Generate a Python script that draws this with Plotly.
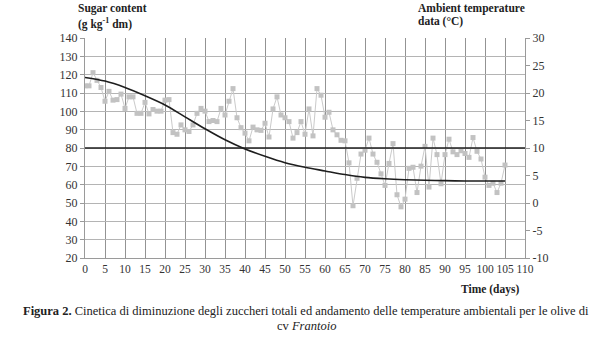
import plotly.graph_objects as go

# ---- data ----
sugar_days = [0, 5, 10, 15, 20, 25, 30, 35, 40, 45, 50, 55, 60, 65, 70, 75, 80, 85, 90, 95, 100, 105]
sugar_vals = [118.5, 116.5, 113, 108.5, 103.5, 97, 90.5, 84.5, 79.5, 75.5, 72, 69.5, 67.5, 65.5,
              64, 63.2, 62.7, 62.4, 62.2, 62, 62, 62]

temp_days = list(range(0, 106))
temp_vals = [21.3, 21.3, 23.7, 22.3, 21.0, 18.5, 20.3, 18.7, 18.8, 19.8,
             17.2, 19.3, 19.3, 16.3, 16.3, 18.3, 16.2, 17.0, 16.7, 16.7,
             18.7, 18.8, 12.8, 12.5, 14.2, 13.3, 13.0, 14.2, 16.3, 17.2,
             16.7, 14.8, 15.0, 14.8, 17.2, 16.0, 18.5, 20.8, 15.5, 13.7,
             12.7, 11.3, 13.8, 13.3, 13.2, 14.5, 12.0, 17.1, 19.3, 16.0,
             15.5, 14.8, 11.8, 12.8, 14.8, 12.5, 17.1, 12.2, 20.8, 19.6,
             15.6, 16.5, 13.3, 12.4, 11.4, 11.3, 7.3, -0.5, 4.5, 8.9,
             9.6, 11.8, 8.9, 7.4, 5.3, 3.2, 7.2, 10.8, 1.5, -0.7,
             0.7, 6.3, 6.5, 1.9, 6.7, 10.3, 2.9, 11.8, 8.8, 3.5,
             8.8, 11.6, 9.3, 8.8, 9.5, 9.0, 8.3, 11.9, 9.4, 8.0,
             4.7, 3.2, 3.6, 1.9, 3.6, 6.9]

threshold_x = [0, 110]
threshold_sugar = [80, 80]

x_ticks = list(range(0, 111, 5))
sugar_ticks = list(range(20, 141, 10))
temp_ticks = list(range(-10, 31, 5))
temp_ticktext = [str(t) for t in temp_ticks]  # plain hyphen minus as in the reference

serif = "'Liberation Serif', 'Times New Roman', Times, serif"

fig = go.Figure()

# temperature on the (right-side) primary y axis
fig.add_trace(go.Scatter(
    x=temp_days, y=temp_vals, mode="lines+markers", yaxis="y",
    line=dict(color="#cacaca", width=1),
    marker=dict(symbol="square", size=5, color="#c2c2c2", line=dict(width=0)),
    showlegend=False, hoverinfo="skip"))

# sugar traces on the left overlaying axis (drawn on top)
fig.add_trace(go.Scatter(
    x=threshold_x, y=threshold_sugar, mode="lines", yaxis="y2",
    line=dict(color="#1e1e1e", width=1.5), showlegend=False, hoverinfo="skip"))
fig.add_trace(go.Scatter(
    x=sugar_days, y=sugar_vals, mode="lines", yaxis="y2",
    line=dict(color="#1e1e1e", width=1.6, shape="spline", smoothing=0.8),
    showlegend=False, hoverinfo="skip"))

tickfont = dict(family=serif, size=12, color="#333333")
xtickfont = dict(family=serif, size=11.5, color="#333333")

fig.update_layout(
    width=600, height=339,
    margin=dict(l=85, r=75, t=38, b=81),
    paper_bgcolor="white", plot_bgcolor="white",
    font=dict(family=serif),
    xaxis=dict(range=[0, 110], tickvals=x_ticks, showgrid=True, gridcolor="#939393", gridwidth=1,
               showline=True, linecolor="#9a9a9a", linewidth=1, zeroline=False,
               ticks="", tickangle=0, tickfont=xtickfont, fixedrange=True),
    yaxis=dict(range=[-10, 30], tickvals=temp_ticks, ticktext=temp_ticktext, side="right", showgrid=False,
               showline=True, linecolor="#9a9a9a", linewidth=1, zeroline=False,
               ticks="outside", ticklen=4, tickcolor="#9a9a9a", tickfont=tickfont),
    yaxis2=dict(range=[20, 140], tickvals=sugar_ticks, side="left", overlaying="y", anchor="x",
                showgrid=True, gridcolor="#b4b4b4", gridwidth=1,
                showline=True, linecolor="#9a9a9a", linewidth=1, zeroline=False,
                ticks="outside", ticklen=4, tickcolor="#9a9a9a", tickfont=tickfont),
)

def px_x(p):
    return (p - 85) / 440.0

def px_y(p):
    return (258 - p) / 220.0

title_font = dict(family=serif, size=11.5, color="#222222")
cap_font = dict(family=serif, size=12.5, color="#222222")
annots = [
    dict(text="<b>Sugar content</b>", x=px_x(76), y=px_y(9), xanchor="left", yanchor="middle", font=title_font),
    dict(text="<b>(g kg<sup>-1</sup> dm)</b>", x=px_x(76), y=px_y(23), xanchor="left", yanchor="middle", font=title_font),
    dict(text="<b>Ambient temperature</b>", x=px_x(416), y=px_y(9), xanchor="left", yanchor="middle", font=title_font),
    dict(text="<b>data (°C)</b>", x=px_x(416), y=px_y(22), xanchor="left", yanchor="middle", font=title_font),
    dict(text="<b>Time (days)</b>", x=px_x(521), y=px_y(289), xanchor="right", yanchor="middle", font=title_font),
    dict(text="<b>Figura 2.</b> Cinetica di diminuzione degli zuccheri totali ed andamento delle temperature ambientali per le olive di",
         x=px_x(306), y=px_y(311), xanchor="center", yanchor="middle", font=cap_font),
    dict(text="cv <i>Frantoio</i>", x=px_x(306), y=px_y(326), xanchor="center", yanchor="middle", font=cap_font),
]
for a in annots:
    a.update(xref="paper", yref="paper", showarrow=False)
fig.update_layout(annotations=annots)

fig.write_html("out.html")
